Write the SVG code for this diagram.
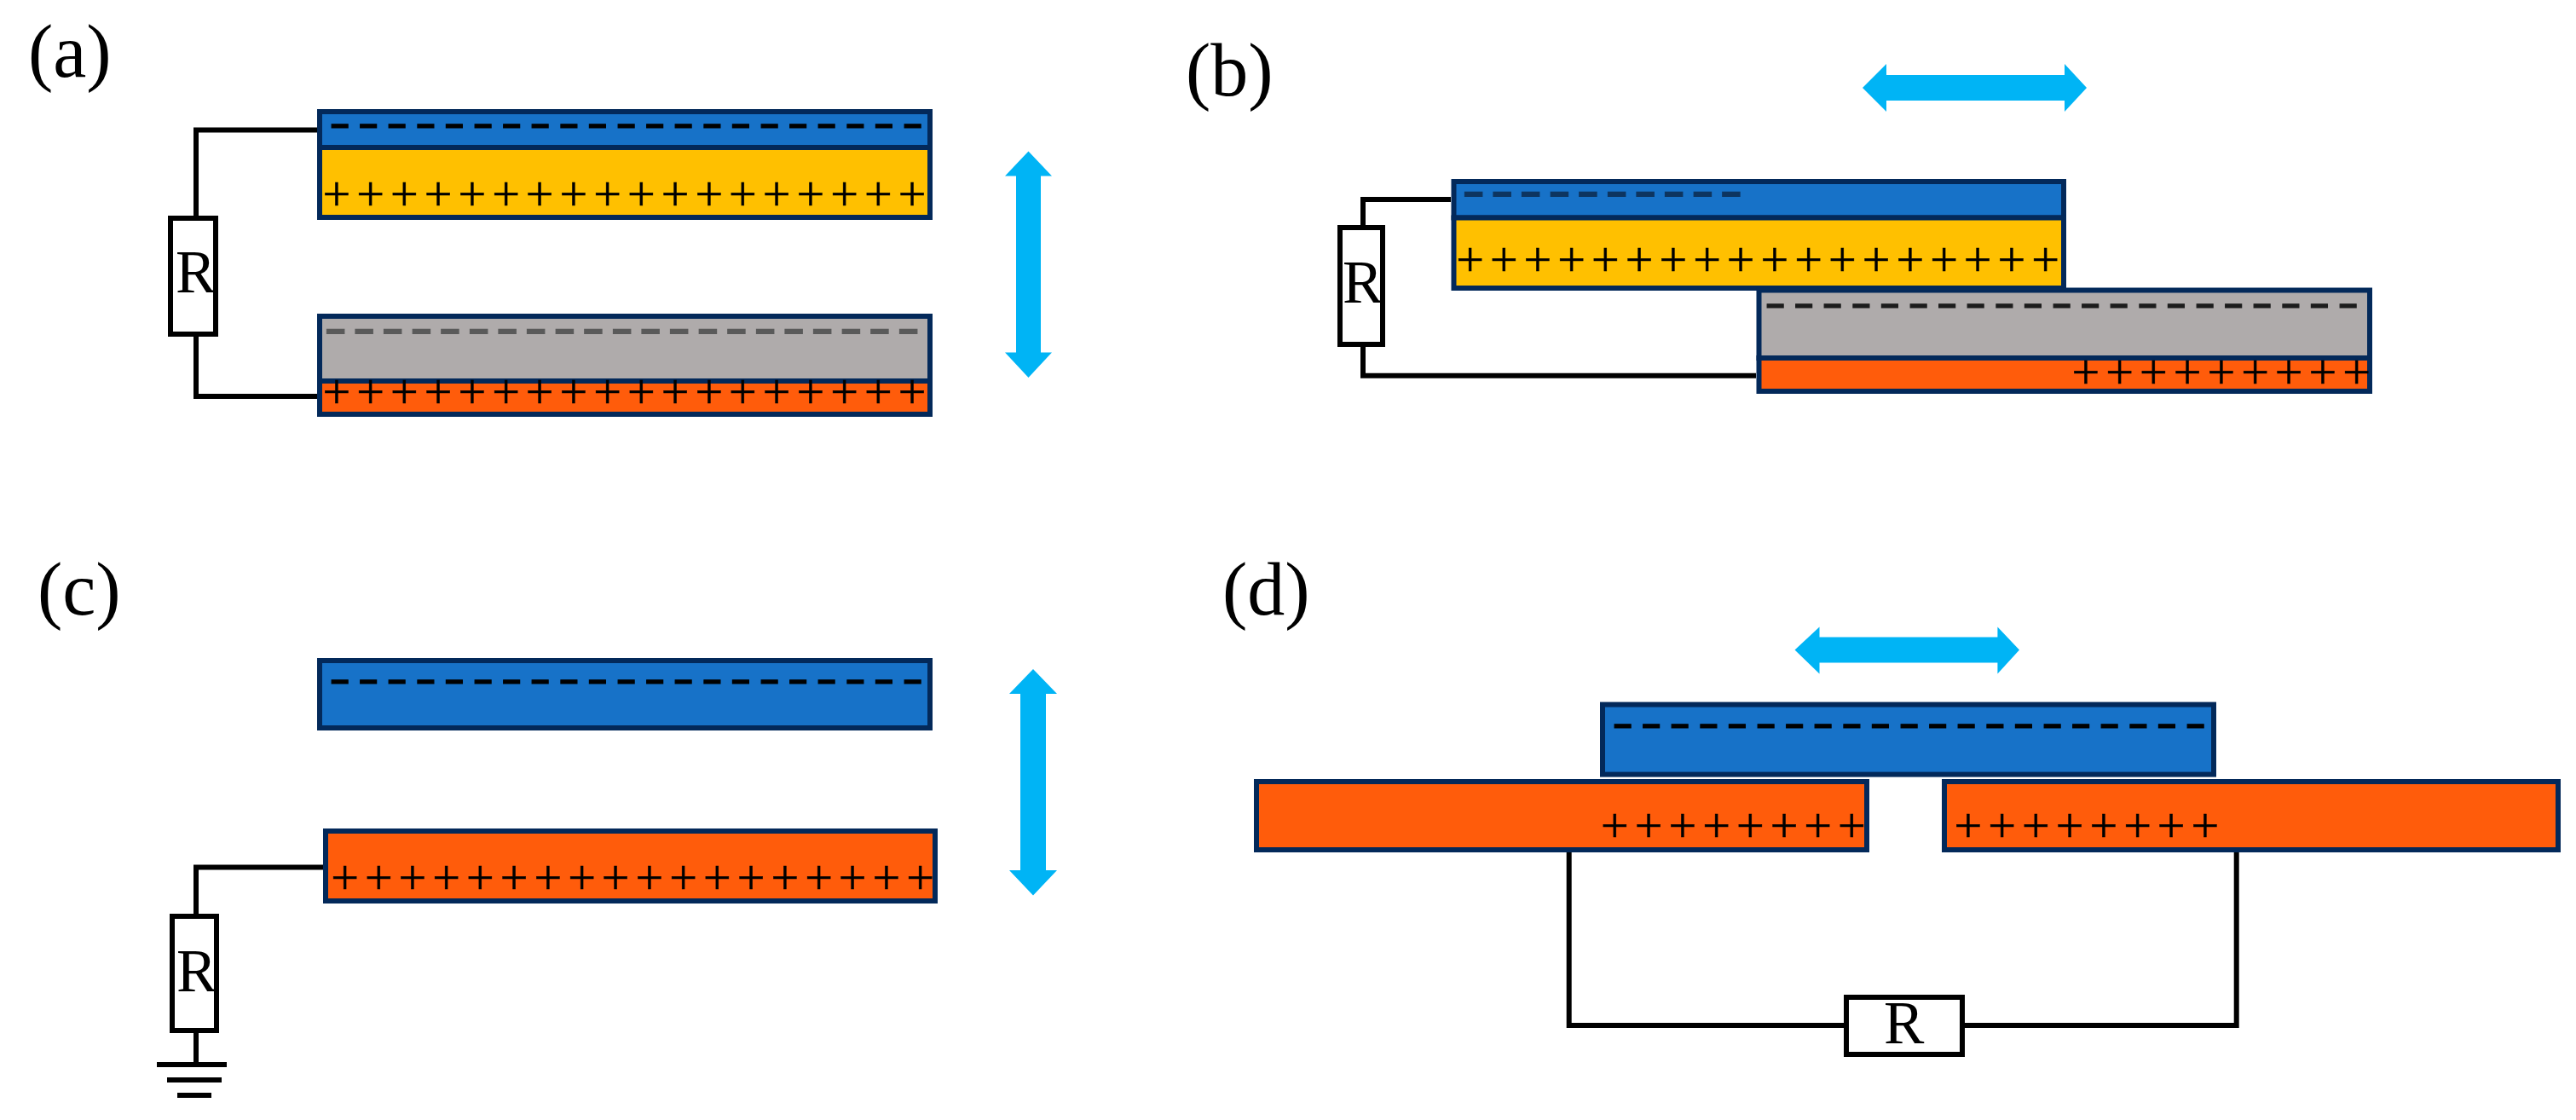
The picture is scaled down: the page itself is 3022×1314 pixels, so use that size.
<svg xmlns="http://www.w3.org/2000/svg" width="3022" height="1314" viewBox="0 0 3022 1314">
<style>
.pl{stroke:#03295a;stroke-width:6}
.blue{fill:#1772c8}.yellow{fill:#ffc000}.gray{fill:#afabab}.orange{fill:#ff5c0b}
.res{fill:#fff;stroke:#000;stroke-width:6}
.wire{fill:none;stroke:#000;stroke-width:6}
.arrow{fill:#00b4f5}
.lab{font-family:"Liberation Serif","Times New Roman",serif;font-size:88px;fill:#000}
.r{font-family:"Liberation Serif","Times New Roman",serif;font-size:71px;fill:#000}
.plus{font-family:"Liberation Serif","Times New Roman",serif;font-size:58px;letter-spacing:7px;fill:#000;stroke:#000;stroke-width:.5}
.minus{font-family:"Liberation Serif","Times New Roman",serif;font-size:56px;letter-spacing:7.2px;fill:#000;stroke:#000;stroke-width:1}
</style>
<rect width="3022" height="1314" fill="#fff"/>
<g id="connectors">
<path class="wire" d="M372,152.5H230V256M230,392V465H372"/>
<path class="wire" d="M1702,234H1599V267M1599,404V440.7H2060"/>
<path class="wire" d="M379,1017.5H230V1075M230,1209V1248"/>
<path class="wire" d="M1840.7,1000V1203H2166M2302,1203H2623.7V1000"/>
</g>
<g id="panel-a">
<text class="lab" x="33" y="90">(a)</text>
<g id="a-top"><rect class="pl blue" x="375" y="131" width="716" height="42"/><rect class="pl yellow" x="375" y="173" width="716" height="82"/>
<text class="minus" transform="translate(386.4,160.6) scale(1.3 1)">---------------------</text>
<text class="plus" x="378.6" y="247.4">++++++++++++++++++</text></g>
<g id="a-bottom"><rect class="pl gray" x="375" y="371" width="716" height="76"/><rect class="pl orange" x="375" y="447" width="716" height="39"/>
<text class="minus" transform="translate(381.4,401.6) scale(1.3 1)" style="fill:#5a5a5a;stroke:#5a5a5a;stroke-width:2">---------------------</text>
<text class="plus" x="378.6" y="479.3">++++++++++++++++++</text></g>
<g id="a-resistor"><rect class="res" x="200" y="256" width="53" height="136"/><text class="r" x="206" y="343">R</text></g>
<polygon id="a-arrow" class="arrow" points="1206.5,177.5 1234,206.5 1221,206.5 1221,413.5 1234,413.5 1206.5,443 1179,413.5 1192,413.5 1192,206.5 1179,206.5"/>
</g>
<g id="panel-b">
<text class="lab" x="1391" y="112">(b)</text>
<g id="b-top"><rect class="pl blue" x="1705.5" y="213" width="715.5" height="42.5"/><rect class="pl yellow" x="1705.5" y="255.5" width="715.5" height="82.5"/>
<text class="minus" transform="translate(1716.4,240.6) scale(1.3 1)" style="fill:#0d3560;stroke:#0d3560;stroke-width:2">----------</text>
<text class="plus" x="1708.2" y="323.7">++++++++++++++++++</text></g>
<g id="b-bottom"><rect class="pl gray" x="2063.5" y="340.5" width="716.5" height="79.5"/><rect class="pl orange" x="2063.5" y="420" width="716.5" height="39"/>
<text class="minus" transform="translate(2070.4,372.2) scale(1.3 1)" style="fill:#1c1c1c;stroke:#1c1c1c">---------------------</text>
<text class="plus" x="2430.6" y="455.7">+++++++++</text></g>
<g id="b-resistor"><rect class="res" x="1572" y="267" width="50" height="137"/><text class="r" x="1575" y="355">R</text></g>
<polygon id="b-arrow" class="arrow" points="2185,103 2213,75 2213,88 2422,88 2422,75 2448,103 2422,131 2422,118 2213,118 2213,131"/>
</g>
<g id="panel-c">
<text class="lab" x="44" y="721">(c)</text>
<g id="c-top"><rect class="pl blue" x="375" y="775" width="716" height="79"/>
<text class="minus" transform="translate(386.4,812.6) scale(1.3 1)">---------------------</text></g>
<g id="c-bottom"><rect class="pl orange" x="382" y="975" width="715" height="82"/>
<text class="plus" x="388.2" y="1048.7">++++++++++++++++++</text></g>
<g id="c-resistor"><rect class="res" x="202" y="1075" width="52" height="134"/><text class="r" x="207" y="1163">R</text></g>
<g id="c-ground"><rect x="184" y="1246" width="82" height="6"/><rect x="196" y="1264" width="64" height="6"/><rect x="208" y="1282" width="40" height="6"/></g>
<polygon id="c-arrow" class="arrow" points="1212,785 1240,814 1227,814 1227,1021 1240,1021 1212,1050.6 1184,1021 1197,1021 1197,814 1184,814"/>
</g>
<g id="panel-d">
<text class="lab" x="1434" y="721">(d)</text>
<g id="d-top"><rect class="pl blue" x="1880" y="826.6" width="717" height="82"/>
<text class="minus" transform="translate(1891.4,864.6) scale(1.3 1)">---------------------</text></g>
<g id="d-left"><rect class="pl orange" x="1474" y="917" width="716" height="80"/>
<text class="plus" x="1878.1" y="987.7">++++++++</text></g>
<g id="d-right"><rect class="pl orange" x="2281" y="917" width="720" height="80"/>
<text class="plus" x="2292.6" y="987.7">++++++++</text></g>
<g id="d-resistor"><rect class="res" x="2166" y="1170" width="136" height="67"/><text class="r" x="2210" y="1224">R</text></g>
<polygon id="d-arrow" class="arrow" points="2105.5,762.5 2134.5,735.4 2134.5,747.5 2343.4,747.5 2343.4,735.4 2369,762.5 2343.4,790.5 2343.4,777.6 2134.5,777.6 2134.5,790.5"/>
</g>
</svg>
